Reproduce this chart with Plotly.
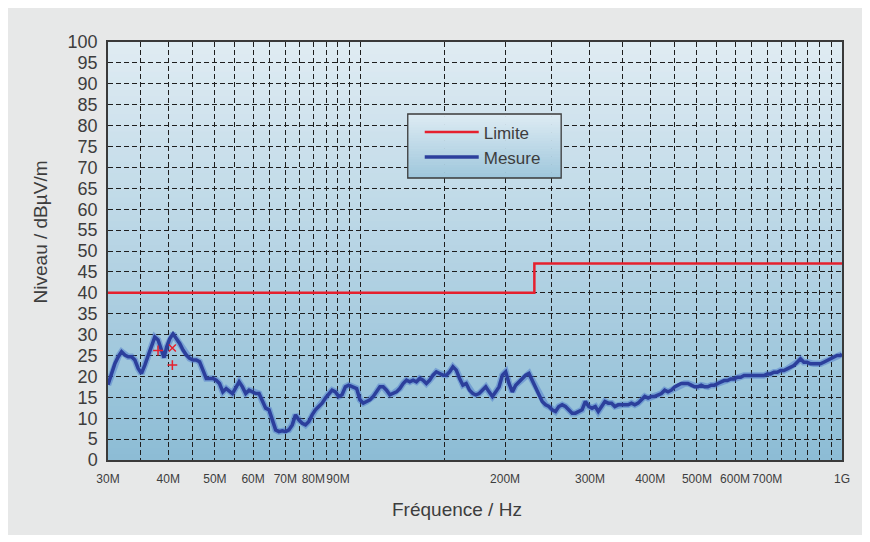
import plotly.graph_objects as go

# ---------------- data ----------------
freq_mhz = [30.0, 30.52, 31.01, 31.51, 32.01, 32.52, 33.04, 33.57, 34.11, 34.65, 35.21, 35.77, 36.34,
            36.92, 37.51, 38.11, 38.72, 39.2, 39.7, 40.29, 40.93, 41.59, 42.26, 42.93, 43.62, 44.31,
            45.02, 45.74, 46.47, 47.22, 47.97, 48.74, 49.52, 50.31, 51.11, 51.93, 52.76, 54.37, 55.24,
            56.12, 57.02, 57.93, 58.86, 59.80, 60.76, 61.73, 62.72, 63.72, 64.74, 65.77, 66.83, 67.89,
            68.98, 70.08, 71.20, 72.34, 73.49, 74.67, 75.86, 77.08, 78.31, 79.56, 80.83, 82.12, 83.44,
            84.77, 86.13, 87.51, 88.91, 90.33, 91.77, 93.24, 94.73, 96.86, 98.40, 99.98, 101.58, 103.20,
            104.85, 106.53, 108.23, 109.96, 111.72, 113.51, 115.32, 117.16, 119.04, 120.94, 122.88,
            124.84, 126.84, 128.86, 130.92, 133.02, 135.15, 137.31, 139.50, 141.73, 144.00, 146.30,
            148.64, 151.02, 153.43, 155.89, 158.38, 160.91, 163.48, 166.10, 168.76, 171.45, 173.88,
            176.66, 179.48, 182.35, 185.27, 188.23, 191.24, 194.30, 197.40, 200.56, 203.77, 207.03,
            210.34, 213.70, 217.12, 220.59, 224.12, 227.70, 231.34, 235.04, 238.80, 242.62, 246.50,
            250.44, 254.45, 258.51, 262.65, 266.85, 271.11, 275.45, 279.85, 284.33, 288.87, 293.49,
            298.19, 302.96, 307.80, 312.11, 317.10, 322.17, 327.32, 332.56, 337.88, 343.28, 348.77,
            354.35, 360.01, 365.77, 371.62, 377.56, 383.60, 389.73, 395.97, 402.30, 408.73, 415.27,
            421.91, 428.65, 435.51, 442.47, 449.55, 456.74, 464.04, 471.46, 479.00, 486.66, 494.44,
            502.35, 510.38, 518.54, 526.83, 535.26, 543.82, 552.51, 560.42, 569.38, 578.49, 587.74,
            597.14, 606.69, 616.39, 626.25, 636.26, 646.43, 656.77, 667.27, 677.94, 688.79, 699.80,
            710.99, 722.36, 733.91, 745.65, 757.57, 769.69, 782.00, 794.50, 807.20, 820.11, 833.23,
            846.55, 860.09, 873.84, 887.81, 902.01, 916.43, 931.09, 945.98, 961.10, 976.47, 992.09,
            1000.0]
level_dbuv = [18.0, 20.7, 23.1, 24.7, 25.9, 25.1, 24.7, 24.7, 23.9, 21.9, 20.7, 22.7, 25.1,
              27.5, 29.4, 28.7, 26.3, 24.5, 27.0, 29.0, 30.2, 29.0, 27.9, 26.3, 25.1, 24.3,
              23.9, 23.9, 23.5, 21.5, 19.5, 19.5, 19.5, 19.1, 18.3, 16.3, 17.1, 15.9, 17.5,
              18.7, 17.5, 15.9, 16.7, 16.3, 15.9, 15.9, 14.0, 12.4, 12.0, 9.6, 7.2, 6.8,
              7.0, 6.8, 7.2, 8.4, 10.8, 9.6, 8.8, 8.4, 9.2, 10.8, 12.0, 12.8, 13.6,
              14.8, 15.9, 16.7, 16.3, 15.2, 15.6, 17.5, 17.9, 17.5, 17.1, 14.4, 13.6, 14.0,
              14.4, 15.2, 16.3, 17.5, 17.5, 16.7, 15.6, 15.9, 16.3, 17.1, 18.3,
              19.1, 18.7, 19.1, 18.7, 19.5, 19.1, 18.3, 19.1, 20.3, 21.1, 20.7,
              20.3, 20.3, 21.1, 22.3, 21.5, 19.5, 17.9, 18.3, 16.7, 15.9, 15.6,
              15.9, 16.7, 17.5, 16.3, 15.2, 16.3, 17.5, 20.3, 21.1, 18.3, 16.3,
              17.9, 18.7, 19.5, 20.3, 20.7, 19.1, 17.5, 15.9, 14.0, 13.2, 12.8,
              12.0, 11.6, 12.8, 13.2, 12.8, 12.0, 11.2, 11.2, 11.6, 12.0, 14.0,
              12.8, 12.4, 12.8, 11.6, 12.8, 14.0, 13.6, 13.6, 12.8, 13.2, 13.2,
              13.2, 13.2, 13.6, 13.2, 13.6, 14.4, 15.2, 14.8, 15.2, 15.2, 15.6,
              15.9, 16.7, 16.3, 16.7, 17.5, 17.9, 18.3, 18.3, 18.3, 17.9, 17.5,
              17.5, 17.9, 17.5, 17.5, 17.9, 17.9, 18.3, 18.6, 19.0, 19.0, 19.4,
              19.4, 19.8, 19.8, 20.2, 20.2, 20.2, 20.2, 20.2, 20.2, 20.2, 20.6,
              20.6, 21.0, 21.0, 21.4, 21.4, 21.8, 22.2, 22.6, 23.4, 24.2, 23.4,
              23.4, 23.0, 23.0, 23.0, 23.0, 23.4, 23.8, 24.2, 24.6, 25.0, 25.0,
              25.3]

limit_freq_mhz = [30, 230, 230, 1000]
limit_dbuv = [40, 40, 47, 47]

peak_plus_freq_mhz = [38.1, 40.8]
peak_plus_dbuv = [26.2, 22.7]
peak_x_freq_mhz = [40.8]
peak_x_dbuv = [26.8]

x_tickvals = [30, 35, 40, 45, 50, 55, 60, 65, 70, 75, 80, 85, 90, 95, 100,
              150, 200, 250, 300, 350, 400, 450, 500, 550, 600, 650, 700, 750, 800, 850, 900, 950, 1000]
x_ticktext = ["30M", "", "40M", "", "50M", "", "60M", "", "70M", "", "80M", "", "90M", "", "",
              "", "200M", "", "300M", "", "400M", "", "500M", "", "600M", "", "700M", "", "", "", "", "", "1G"]
y_tickvals = [0, 5, 10, 15, 20, 25, 30, 35, 40, 45, 50, 55, 60, 65, 70, 75, 80, 85, 90, 95, 100]

FONT = "Liberation Sans, Arial, Helvetica, sans-serif"
TXT = "#3d3d3d"

fig = go.Figure()
fig.add_trace(go.Scatter(x=limit_freq_mhz, y=limit_dbuv, mode="lines", name="Limite",
                         line=dict(color="#e5202e", width=2.5)))
fig.add_trace(go.Scatter(x=freq_mhz, y=level_dbuv, mode="lines", showlegend=False, hoverinfo="skip",
                         line=dict(color="rgba(60,105,200,0.4)", width=6.5)))
fig.add_trace(go.Scatter(x=freq_mhz, y=level_dbuv, mode="lines", name="Mesure",
                         line=dict(color="#2c3f9c", width=3.5)))
fig.add_trace(go.Scatter(x=peak_plus_freq_mhz, y=peak_plus_dbuv, mode="markers", showlegend=False,
                         marker=dict(symbol="cross-thin", size=7, line=dict(color="#e5202e", width=1.5))))
fig.add_trace(go.Scatter(x=peak_x_freq_mhz, y=peak_x_dbuv, mode="markers", showlegend=False,
                         marker=dict(symbol="x-thin", size=7, line=dict(color="#e5202e", width=1.5))))

def lerp(c0, c1, t):
    return "rgb(%d,%d,%d)" % tuple(round(a + (b - a) * t) for a, b in zip(c0, c1))

shapes = []
# plot-area gradient
bottom_c, top_c = (140, 188, 213), (224, 236, 243)
N = 70
for i in range(N):
    shapes.append(dict(type="rect", xref="paper", yref="paper", x0=0, x1=1, y0=i / N, y1=(i + 1) / N + 0.002,
                       fillcolor=lerp(bottom_c, top_c, (i + 0.5) / N), line=dict(width=0), layer="below"))
# legend box gradient
lx0, lx1, ly0, ly1 = 0.4084, 0.6174, 0.6746, 0.8278
lb, lt = (158, 198, 219), (222, 236, 244)
M = 24
for i in range(M):
    shapes.append(dict(type="rect", xref="paper", yref="paper", x0=lx0, x1=lx1,
                       y0=ly0 + (ly1 - ly0) * i / M, y1=ly0 + (ly1 - ly0) * (i + 1) / M + 0.001,
                       fillcolor=lerp(lb, lt, (i + 0.5) / M), line=dict(width=0), layer="above"))
shapes.append(dict(type="rect", xref="paper", yref="paper", x0=lx0, x1=lx1, y0=ly0, y1=ly1,
                   fillcolor="rgba(0,0,0,0)", line=dict(color="#3a3a3a", width=1.3), layer="above"))

fig.update_layout(
    width=854, height=527,
    margin=dict(l=100, r=17, t=34, b=75),
    paper_bgcolor="#e7e8e8", plot_bgcolor="rgba(0,0,0,0)",
    font=dict(family=FONT, color=TXT),
    shapes=shapes,
    showlegend=True,
    legend=dict(x=0.4247, y=0.8268, xanchor="left", yanchor="top", bgcolor="rgba(0,0,0,0)", borderwidth=0,
                font=dict(size=17, color=TXT, family=FONT), itemwidth=54, traceorder="normal"),
    annotations=[
        dict(text="Fréquence / Hz", xref="paper", yref="paper", x=0.475, y=-0.1196, showarrow=False,
             font=dict(size=19, color=TXT, family=FONT), xanchor="center", yanchor="middle"),
        dict(text="Niveau / dBµV/m", xref="paper", yref="paper", x=-0.0923, y=0.545, showarrow=False,
             textangle=-90, font=dict(size=19, color=TXT, family=FONT), xanchor="center", yanchor="middle"),
    ],
)
fig.update_xaxes(type="log", range=[1.4771213, 3.0], tickvals=x_tickvals, ticktext=x_ticktext,
                 tickangle=0,
                 showgrid=True, gridcolor="#1e1e1e", gridwidth=1, griddash="5px,3px",
                 showline=True, linecolor="#3a3a3a", linewidth=1.5, mirror=True,
                 ticks="", ticklabelstandoff=7, tickfont=dict(size=12, color=TXT, family=FONT),
                 zeroline=False)
fig.update_yaxes(range=[0, 100], tickvals=y_tickvals,
                 showgrid=True, gridcolor="#1e1e1e", gridwidth=1, griddash="5px,3px",
                 showline=True, linecolor="#3a3a3a", linewidth=1.5, mirror=True,
                 ticks="", ticklabelstandoff=5, tickfont=dict(size=18, color=TXT, family=FONT),
                 zeroline=False)

fig.write_html("out.html")
